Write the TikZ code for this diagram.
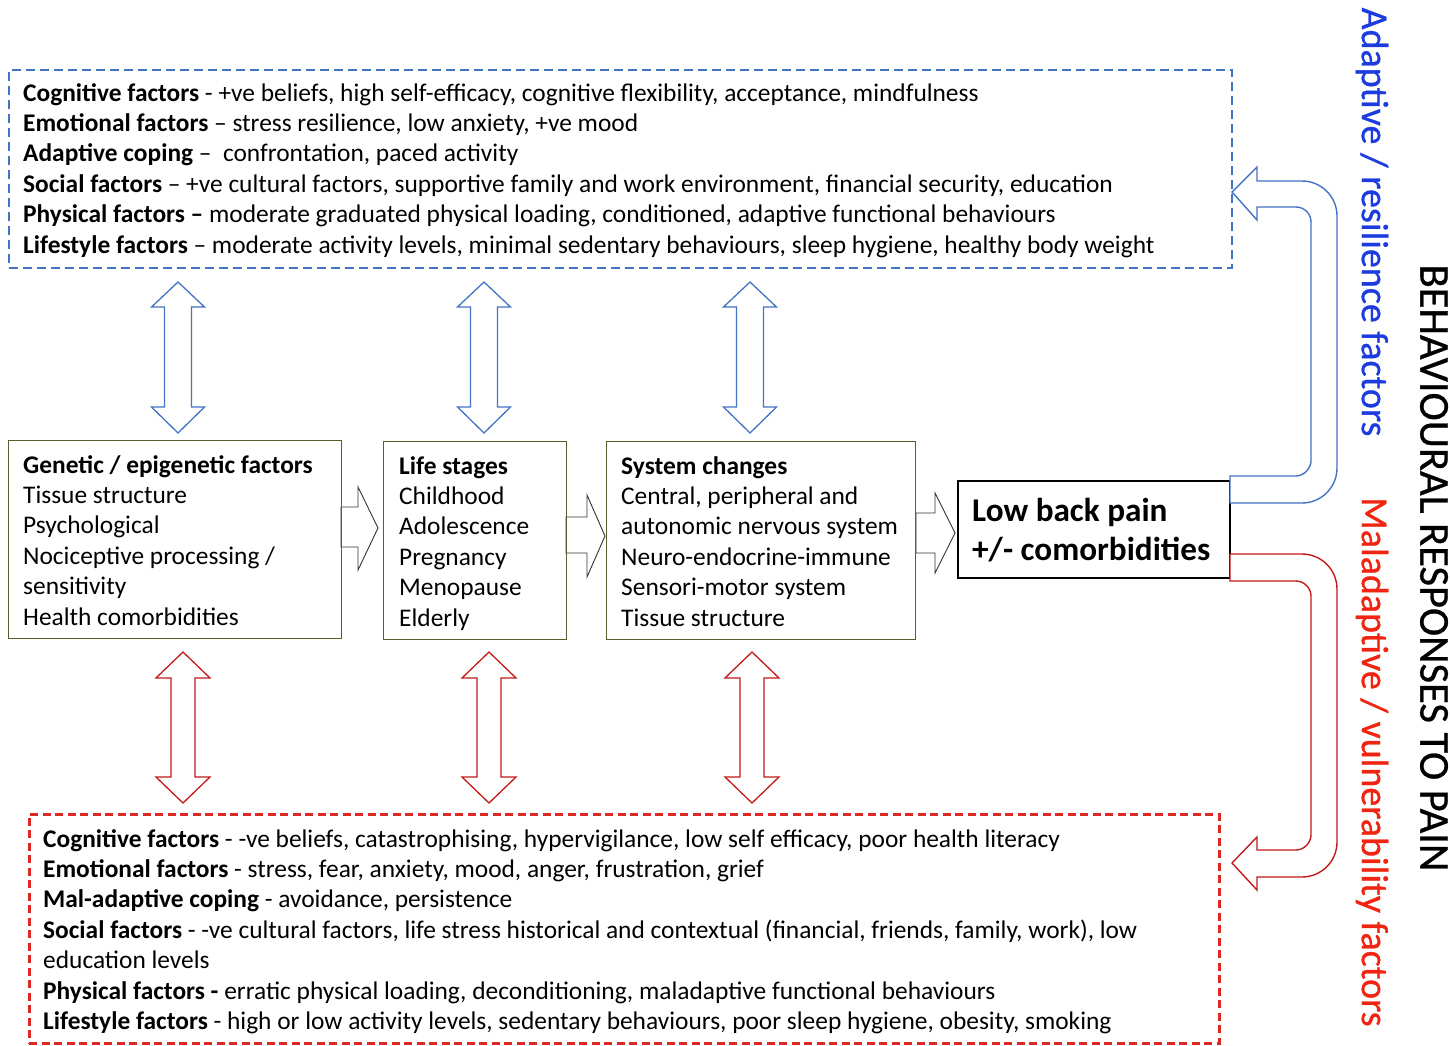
\documentclass[tikz,border=0pt]{standalone}
\usepackage{fontspec}
\setmainfont{Carlito}
\newfontfamily\sidefont{Carlito}[FakeBold=0.7]
\definecolor{bluedash}{RGB}{68,114,196}
\definecolor{reddash}{RGB}{222,40,36}
\definecolor{bluearr}{RGB}{68,114,196}
\definecolor{redarr}{RGB}{196,26,26}
\definecolor{boxolive}{RGB}{92,92,44}
\definecolor{txtblue}{RGB}{28,60,224}
\definecolor{txtred}{RGB}{240,36,16}
\newcommand\vdblarrow[8]{%
  \draw[#1] (#2,#3) -- (#2+#7,#4) -- (#2+#8,#4) -- (#2+#8,#5) -- (#2+#7,#5) -- (#2,#6)
    -- (#2-#7,#5) -- (#2-#8,#5) -- (#2-#8,#4) -- (#2-#7,#4) -- cycle;}
\newcommand\hblkarrow[8]{%
  \draw[rarrow] (#1,#2) -- (#4,#2) -- (#4,#5) -- (#7,#8) -- (#4,#6) -- (#4,#3) -- (#1,#3) -- cycle;}
\begin{document}
\begin{tikzpicture}[x=1pt,y=-1pt,
  dashblue/.style={draw=bluedash, line width=2.4pt, dash pattern=on 9pt off 5pt, anchor=north west, inner sep=0},
  dashred/.style={draw=reddash, line width=2.6pt, dash pattern=on 8pt off 4.5pt, anchor=north west, inner sep=0},
  midbox/.style={draw=boxolive, line width=1.3pt, anchor=north west, inner sep=0},
  lbpbox/.style={draw=black, line width=1.8pt, anchor=north west, inner sep=0},
  txt/.style={anchor=north west, inner sep=0, align=left, font=\fontsize{25.4}{30.4}\selectfont},
  bdbl/.style={draw=bluearr, line width=1.3pt, fill=white, line join=miter},
  rdbl/.style={draw=redarr, line width=1.3pt, fill=white, line join=miter},
  rarrow/.style={draw=black!80, line width=0.9pt, fill=white, line join=miter},
  bcurve/.style={draw=bluearr, line width=1.4pt, fill=white, line join=miter},
  rcurve/.style={draw=redarr, line width=1.4pt, fill=white, line join=miter},
  sidetxt/.style={inner sep=0, rotate=-90, font=\sidefont\fontsize{38}{44}\selectfont}
]
\useasboundingbox (0,0) rectangle (1450,1046);
\fill[white] (0,0) rectangle (1450,1046);

% block arrows between boxes
\hblkarrow{341}{507}{547}{358}{487}{570}{378}{528}
\hblkarrow{566}{517}{553}{587}{495}{577}{605}{536}
\hblkarrow{916}{513}{553}{935}{493}{573}{955}{533}

% boxes
\node[dashblue, minimum width=1223pt, minimum height=198pt] (adapt) at (8,69) {};
\node[dashred, minimum width=1190pt, minimum height=229pt] (malad) at (28,813) {};
\node[midbox, minimum width=333pt, minimum height=198pt] (gen) at (8,440) {};
\node[midbox, minimum width=183pt, minimum height=198pt] (life) at (383,441) {};
\node[midbox, minimum width=309pt, minimum height=198pt] (sys) at (606,441) {};
\node[lbpbox, minimum width=272pt, minimum height=97pt] (lbp) at (957,480) {};

% texts
\node[txt] (adapttxt) at (23,83) {%
\textbf{Cognitive factors} - +ve beliefs, high self-efficacy, cognitive flexibility, acceptance, mindfulness\\
\textbf{Emotional factors} – stress resilience, low anxiety, +ve mood\\
\textbf{Adaptive coping} –~ confrontation, paced activity\\
\textbf{Social factors} – +ve cultural factors, supportive family and work environment, financial security, education\\
\textbf{Physical factors –} moderate graduated physical loading, conditioned, adaptive functional behaviours\\
\textbf{Lifestyle factors} – moderate activity levels, minimal sedentary behaviours, sleep hygiene, healthy body weight};

\node[txt] (maladtxt) at (43,829) {%
\textbf{Cognitive factors} - -ve beliefs, catastrophising, hypervigilance, low self efficacy, poor health literacy\\
\textbf{Emotional factors} - stress, fear, anxiety, mood, anger, frustration, grief\\
\textbf{Mal-adaptive coping} - avoidance, persistence\\
\textbf{Social factors} - -ve cultural factors, life stress historical and contextual (financial, friends, family, work), low\\
education levels\\
\textbf{Physical factors -} erratic physical loading, deconditioning, maladaptive functional behaviours\\
\textbf{Lifestyle factors} - high or low activity levels, sedentary behaviours, poor sleep hygiene, obesity, smoking};

\node[txt] (gentxt) at (23,455) {%
\textbf{Genetic / epigenetic factors}\\
Tissue structure\\
Psychological\\
Nociceptive processing /\\
sensitivity\\
Health comorbidities};

\node[txt] (lifetxt) at (399,456) {%
\textbf{Life stages}\\
Childhood\\
Adolescence\\
Pregnancy\\
Menopause\\
Elderly};

\node[txt] (systxt) at (621,456) {%
\textbf{System changes}\\
Central, peripheral and\\
autonomic nervous system\\
Neuro-endocrine-immune\\
Sensori-motor system\\
Tissue structure};

\node[anchor=north west, inner sep=0, align=left, font=\fontsize{33.2}{39}\selectfont\bfseries] (lbptxt) at (972,498) {%
Low back pain\\
+/- comorbidities};

% vertical double arrows
\vdblarrow{bdbl}{178}{282}{307}{407}{433}{26.5}{13.5}
\vdblarrow{bdbl}{484}{282}{307}{407}{433}{26.5}{13.5}
\vdblarrow{bdbl}{750}{282}{307}{407}{433}{26.5}{13.5}
\vdblarrow{rdbl}{183}{652}{678}{777}{803}{27}{12}
\vdblarrow{rdbl}{489}{652}{678}{777}{803}{27}{12}
\vdblarrow{rdbl}{752}{652}{678}{777}{803}{27}{12}

% curved arrows
\draw[bcurve] (1230,503) -- (1302,503) .. controls (1321.3,503) and (1337,487.3) .. (1337,468)
  -- (1337,216) .. controls (1337,196.7) and (1321.3,181) .. (1302,181)
  -- (1257,181) -- (1257,167) -- (1232,192) -- (1257,220) -- (1257,207)
  -- (1296,207) .. controls (1304.3,207) and (1311,213.7) .. (1311,222)
  -- (1311,461) .. controls (1311,467.7) and (1304.3,476) .. (1296,476)
  -- (1230,476) -- cycle;
\draw[rcurve] (1230,554) -- (1302,554) .. controls (1321.3,554) and (1337,569.7) .. (1337,589)
  -- (1337,842) .. controls (1337,861.3) and (1321.3,877) .. (1302,877)
  -- (1257,877) -- (1257,890) -- (1232,863) -- (1257,837) -- (1257,850)
  -- (1296,850) .. controls (1304.3,850) and (1311,842.3) .. (1311,835)
  -- (1311,596) .. controls (1311,588.3) and (1304.3,581) .. (1296,581)
  -- (1230,581) -- cycle;

% side texts
\node[sidetxt, text=txtblue] (adlabel) at (1372,222) {Adaptive / resilience factors};
\node[sidetxt, text=txtred] (mallabel) at (1372,762) {Maladaptive / vulnerability factors};
\node[inner sep=0, rotate=-90, font=\sidefont\fontsize{42.5}{50}\selectfont] (behlabel) at (1434,568) {BEHAVIOURAL RESPONSES TO PAIN};
\end{tikzpicture}
\end{document}
